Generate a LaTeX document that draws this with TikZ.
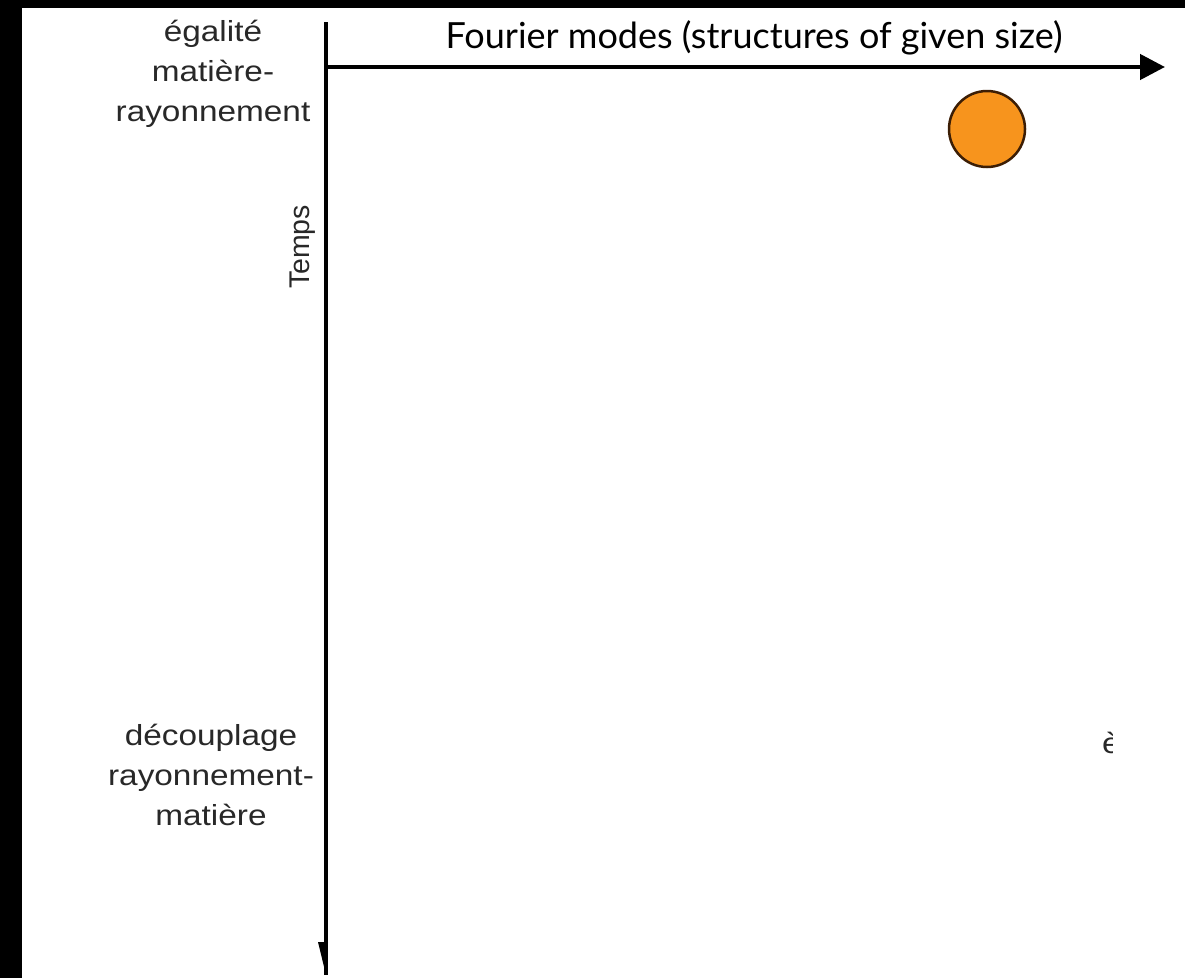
\documentclass[tikz,border=0pt]{standalone}
\usepackage{fontspec}
\setmainfont{Liberation Sans}
\newfontfamily\gillfont{Lato}
\usetikzlibrary{arrows.meta}
\definecolor{dotorange}{RGB}{247,148,29}
\definecolor{dotbrown}{RGB}{60,30,5}
\definecolor{labelgray}{RGB}{40,40,40}
\begin{document}
\begin{tikzpicture}[x=1pt,y=-1pt,
  lbl/.style={font=\fontsize{29}{40}\selectfont, text=labelgray, align=center, xscale=1.15, inner sep=0pt},
  vaxis/.style={line width=3.2pt, black},
  haxis/.style={line width=4.5pt, black, -{Triangle[length=25pt,width=25pt]}},
  dot/.style={circle, fill=dotorange, draw=dotbrown, line width=2.5pt, minimum size=76pt, inner sep=0pt}]
\useasboundingbox (0,0) rectangle (1185,978);
\fill[black] (0,0) rectangle (1185,978);
\fill[white] (22,8) rectangle (1185,978);
% axes
\coordinate (vtop) at (326,22);
\coordinate (vbot) at (326,975);
\coordinate (horig) at (326,67);
\coordinate (hend) at (1165,67);
\draw[vaxis] (vtop) -- (vbot);
\coordinate (tipa) at (318,942);
\coordinate (tipb) at (328,942);
\coordinate (tipc) at (326,975);
\fill[black] (tipa) -- (tipb) -- (tipc) -- cycle;
\draw[haxis] (horig) -- (hend);
% labels
\node[font=\gillfont\fontsize{36}{40}\selectfont, anchor=base, inner sep=0pt] (fourier) at (754,48) {Fourier modes (structures of given size)};
\node[lbl] (egal) at (213,74) {égalité\\matière-\\rayonnement};
\node[lbl] (decoup) at (211,775) {découplage\\rayonnement-\\matière};
\node[font=\fontsize{28.5}{30}\selectfont, text=labelgray, rotate=90, inner sep=0pt] (temps) at (303,247) {Temps};
\node[dot] (mode) at (987,129) {};
% clipped fragment
\begin{scope}
\clip (1095,720) rectangle (1112,760);
\node[font=\fontsize{29}{30}\selectfont, text=labelgray, anchor=base west, xscale=1.15, inner sep=0pt] (frag) at (1102,753) {è};
\end{scope}
\end{tikzpicture}
\end{document}
